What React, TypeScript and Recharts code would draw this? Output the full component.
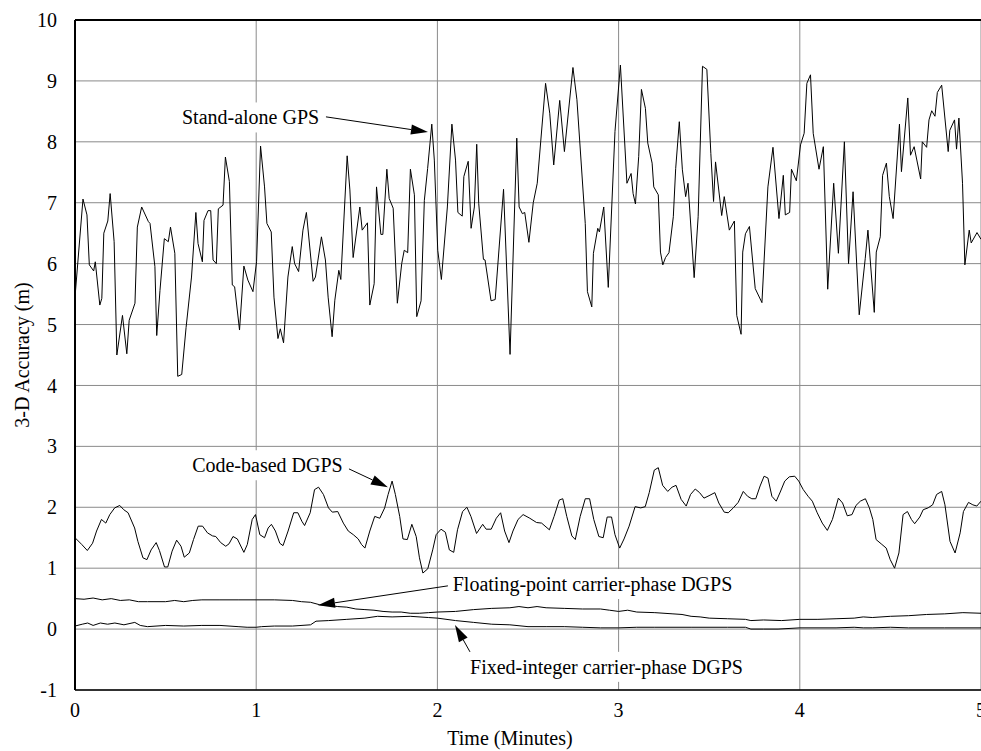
import React, { useLayoutEffect, useRef, useState } from 'react';
import { LineChart, Line, XAxis, YAxis, CartesianGrid, ReferenceLine, ReferenceDot } from 'recharts';

const FONT = '"Liberation Serif", "Times New Roman", serif';
const FS = 20;

const xTicks = [0, 1, 2, 3, 4, 5];
const yTicks = [-1, 0, 1, 2, 3, 4, 5, 6, 7, 8, 9, 10];

// Stand-alone GPS
const gpsTime = [
  0, 0.044, 0.066, 0.079, 0.103, 0.112, 0.137, 0.148, 0.159, 0.181, 0.194, 0.216, 0.231, 0.262, 0.286, 0.299,
  0.331, 0.344, 0.368, 0.405, 0.414, 0.441, 0.451, 0.469, 0.493, 0.515, 0.527, 0.551, 0.567, 0.589, 0.613, 0.643,
  0.667, 0.679, 0.703, 0.712, 0.734, 0.749, 0.762, 0.78, 0.791, 0.817, 0.83, 0.852, 0.868, 0.881, 0.908, 0.932,
  0.954, 0.982, 1.002, 1.024, 1.046, 1.059, 1.083, 1.098, 1.12, 1.133, 1.151, 1.175, 1.199, 1.212, 1.234, 1.258,
  1.277, 1.314, 1.327, 1.36, 1.382, 1.397, 1.419, 1.434, 1.456, 1.467, 1.502, 1.517, 1.535, 1.572, 1.585, 1.614,
  1.627, 1.651, 1.664, 1.688, 1.699, 1.721, 1.734, 1.756, 1.779, 1.803, 1.817, 1.836, 1.851, 1.873, 1.886, 1.91,
  1.928, 1.946, 1.969, 1.983, 2.002, 2.022, 2.055, 2.08, 2.1, 2.113, 2.137, 2.146, 2.17, 2.186, 2.204, 2.217,
  2.228, 2.254, 2.263, 2.296, 2.319, 2.365, 2.401, 2.438, 2.451, 2.469, 2.482, 2.505, 2.529, 2.551, 2.597, 2.62,
  2.642, 2.675, 2.701, 2.748, 2.77, 2.816, 2.828, 2.852, 2.861, 2.885, 2.894, 2.918, 2.943, 2.98, 3.01, 3.046,
  3.069, 3.08, 3.093, 3.111, 3.126, 3.148, 3.161, 3.185, 3.194, 3.219, 3.231, 3.244, 3.259, 3.278, 3.302, 3.315,
  3.335, 3.352, 3.37, 3.383, 3.417, 3.439, 3.463, 3.487, 3.509, 3.524, 3.535, 3.569, 3.583, 3.611, 3.639, 3.652,
  3.676, 3.685, 3.7, 3.722, 3.754, 3.791, 3.824, 3.852, 3.885, 3.909, 3.92, 3.944, 3.954, 3.981, 4.004, 4.024,
  4.039, 4.059, 4.074, 4.106, 4.13, 4.154, 4.187, 4.213, 4.246, 4.269, 4.294, 4.328, 4.361, 4.376, 4.411, 4.422,
  4.444, 4.457, 4.478, 4.494, 4.515, 4.55, 4.561, 4.596, 4.611, 4.631, 4.667, 4.676, 4.7, 4.713, 4.728, 4.746,
  4.759, 4.783, 4.819, 4.828, 4.854, 4.865, 4.878, 4.898, 4.911, 4.935, 4.946, 4.978, 5.0,
];
const gpsAcc = [
  5.45, 7.06, 6.8, 5.98, 5.88, 6.03, 5.32, 5.43, 6.5, 6.7, 7.15, 6.36, 4.5, 5.15, 4.52, 5.07,
  5.35, 6.6, 6.93, 6.69, 6.66, 5.95, 4.82, 5.56, 6.41, 6.36, 6.6, 6.17, 4.15, 4.18, 4.95, 5.78,
  6.84, 6.33, 6.03, 6.71, 6.87, 6.87, 6.06, 6.0, 6.9, 6.96, 7.75, 7.35, 5.65, 5.62, 4.91, 5.96,
  5.73, 5.54, 6.03, 7.93, 7.26, 6.66, 6.52, 5.45, 4.77, 4.93, 4.7, 5.78, 6.28, 6.0, 5.87, 6.55,
  6.84, 5.71, 5.78, 6.44, 6.06, 5.45, 4.8, 5.4, 5.89, 5.74, 7.77, 7.21, 6.1, 6.93, 6.55, 6.67,
  5.32, 5.67, 7.26, 6.48, 6.48, 7.55, 7.07, 6.91, 5.35, 6.0, 6.22, 6.18, 7.55, 7.13, 5.13, 5.39,
  7.04, 7.56, 8.29, 7.7, 6.22, 5.74, 6.93, 8.29, 7.7, 6.84, 6.78, 7.43, 7.68, 6.58, 6.93, 7.96,
  6.99, 6.07, 6.06, 5.39, 5.41, 7.22, 4.51, 8.06, 6.93, 6.82, 6.84, 6.35, 7.0, 7.32, 8.96, 8.47,
  7.62, 8.68, 7.84, 9.22, 8.69, 6.66, 5.54, 5.29, 6.17, 6.58, 6.52, 6.93, 5.61, 8.17, 9.26, 7.32,
  7.48, 7.15, 6.98, 7.76, 8.86, 8.55, 7.98, 7.65, 7.26, 7.13, 6.19, 5.98, 6.1, 6.18, 6.77, 7.56,
  8.33, 7.54, 7.1, 7.32, 5.77, 6.77, 9.24, 9.19, 7.81, 7.02, 7.67, 6.79, 7.1, 6.55, 6.7, 5.15,
  4.84, 6.19, 6.49, 6.61, 5.59, 5.36, 7.26, 7.91, 6.74, 7.45, 6.8, 6.84, 7.55, 7.36, 7.95, 8.14,
  8.96, 9.1, 8.14, 7.55, 7.92, 5.58, 7.32, 6.17, 8.0, 6.0, 7.18, 5.16, 6.08, 6.55, 5.2, 6.19,
  6.44, 7.45, 7.65, 7.1, 6.74, 8.29, 7.51, 8.72, 7.78, 7.92, 7.39, 8.0, 7.91, 8.36, 8.51, 8.42,
  8.81, 8.93, 7.84, 8.19, 8.36, 7.88, 8.39, 7.32, 5.98, 6.55, 6.34, 6.51, 6.4,
];

// Code-based DGPS
const dgpsTime = [
  0, 0.037, 0.068, 0.097, 0.119, 0.146, 0.17, 0.192, 0.219, 0.247, 0.269, 0.293, 0.329, 0.347, 0.375, 0.397,
  0.42, 0.448, 0.466, 0.494, 0.512, 0.536, 0.561, 0.585, 0.603, 0.631, 0.654, 0.68, 0.704, 0.731, 0.759, 0.777,
  0.804, 0.832, 0.85, 0.872, 0.896, 0.932, 0.951, 0.978, 0.996, 1.02, 1.046, 1.066, 1.084, 1.106, 1.13, 1.148,
  1.176, 1.207, 1.23, 1.252, 1.267, 1.298, 1.322, 1.344, 1.371, 1.399, 1.42, 1.45, 1.481, 1.508, 1.536, 1.563,
  1.581, 1.6, 1.627, 1.654, 1.682, 1.709, 1.728, 1.75, 1.768, 1.792, 1.81, 1.834, 1.859, 1.883, 1.901, 1.92,
  1.947, 1.974, 1.993, 2.02, 2.044, 2.066, 2.09, 2.111, 2.139, 2.163, 2.185, 2.216, 2.25, 2.269, 2.297, 2.325,
  2.349, 2.371, 2.395, 2.417, 2.445, 2.473, 2.51, 2.547, 2.575, 2.618, 2.644, 2.673, 2.692, 2.714, 2.742, 2.761,
  2.788, 2.816, 2.84, 2.863, 2.891, 2.915, 2.937, 2.961, 2.98, 3.006, 3.03, 3.058, 3.091, 3.122, 3.147, 3.169,
  3.197, 3.219, 3.243, 3.271, 3.295, 3.317, 3.345, 3.373, 3.397, 3.423, 3.447, 3.471, 3.499, 3.531, 3.553, 3.583,
  3.605, 3.633, 3.66, 3.688, 3.712, 3.735, 3.757, 3.781, 3.803, 3.824, 3.846, 3.87, 3.892, 3.917, 3.942, 3.972,
  3.994, 4.019, 4.046, 4.069, 4.096, 4.124, 4.152, 4.18, 4.213, 4.236, 4.262, 4.288, 4.31, 4.334, 4.362, 4.384,
  4.403, 4.421, 4.449, 4.477, 4.499, 4.523, 4.547, 4.57, 4.594, 4.616, 4.634, 4.662, 4.681, 4.708, 4.733, 4.755,
  4.783, 4.801, 4.829, 4.857, 4.885, 4.903, 4.931, 4.955, 4.977, 5.0,
];
const dgpsAcc = [
  1.5, 1.39, 1.29, 1.41, 1.61, 1.8, 1.74, 1.88, 1.99, 2.03, 1.96, 1.91, 1.66, 1.44, 1.17, 1.14,
  1.3, 1.42, 1.29, 1.02, 1.02, 1.28, 1.46, 1.36, 1.18, 1.25, 1.47, 1.69, 1.69, 1.58, 1.53, 1.52,
  1.42, 1.36, 1.4, 1.52, 1.48, 1.26, 1.39, 1.8, 1.88, 1.55, 1.5, 1.66, 1.72, 1.61, 1.41, 1.37,
  1.61, 1.91, 1.91, 1.77, 1.7, 1.91, 2.29, 2.33, 2.21, 1.99, 1.92, 1.93, 1.74, 1.61, 1.55, 1.48,
  1.39, 1.33, 1.61, 1.85, 1.82, 1.99, 2.21, 2.43, 2.21, 1.85, 1.48, 1.47, 1.72, 1.52, 1.17, 0.92,
  0.99, 1.3, 1.55, 1.64, 1.59, 1.3, 1.26, 1.63, 1.93, 2.0, 1.85, 1.57, 1.72, 1.64, 1.64, 1.82,
  1.91, 1.61, 1.42, 1.61, 1.8, 1.88, 1.82, 1.75, 1.74, 1.63, 1.85, 2.12, 2.14, 1.85, 1.53, 1.47,
  1.85, 2.14, 2.14, 1.8, 1.52, 1.5, 1.84, 1.84, 1.55, 1.33, 1.48, 1.69, 2.01, 1.99, 2.01, 2.24,
  2.61, 2.65, 2.36, 2.26, 2.33, 2.36, 2.13, 2.02, 2.21, 2.3, 2.24, 2.15, 2.19, 2.24, 2.07, 1.92,
  1.91, 1.99, 2.08, 2.26, 2.18, 2.14, 2.14, 2.35, 2.51, 2.48, 2.18, 2.1, 2.25, 2.43, 2.5, 2.51,
  2.43, 2.29, 2.18, 2.1, 1.91, 1.74, 1.62, 1.8, 2.15, 2.07, 1.86, 1.88, 2.03, 2.1, 2.14, 1.99,
  1.8, 1.47, 1.4, 1.33, 1.14, 1.0, 1.25, 1.88, 1.93, 1.8, 1.73, 1.84, 1.96, 1.99, 2.04, 2.21,
  2.26, 2.04, 1.44, 1.25, 1.58, 1.93, 2.08, 2.04, 2.02, 2.1,
];

// Floating-point carrier-phase DGPS
const floatTime = [
  0, 0.05, 0.1, 0.15, 0.2, 0.25, 0.3, 0.35, 0.4, 0.5, 0.55, 0.6, 0.65, 0.7, 0.8, 0.9,
  1.0, 1.1, 1.2, 1.25, 1.3, 1.35, 1.4, 1.45, 1.5, 1.55, 1.6, 1.65, 1.7, 1.75, 1.8, 1.85,
  1.9, 1.95, 2.0, 2.1, 2.2, 2.3, 2.4, 2.45, 2.5, 2.55, 2.6, 2.7, 2.8, 2.9, 2.95, 3.0,
  3.05, 3.1, 3.2, 3.3, 3.35, 3.4, 3.45, 3.5, 3.6, 3.7, 3.73, 3.8, 3.9, 4.0, 4.1, 4.2,
  4.3, 4.35, 4.4, 4.5, 4.6, 4.7, 4.8, 4.9, 5.0,
];
const floatAcc = [
  0.5, 0.49, 0.51, 0.48, 0.5, 0.47, 0.48, 0.45, 0.45, 0.45, 0.47, 0.45, 0.47, 0.48, 0.48, 0.48,
  0.48, 0.48, 0.47, 0.45, 0.44, 0.4, 0.39, 0.37, 0.36, 0.33, 0.32, 0.31, 0.29, 0.28, 0.28, 0.26,
  0.26, 0.27, 0.28, 0.29, 0.32, 0.34, 0.35, 0.37, 0.35, 0.37, 0.35, 0.34, 0.33, 0.33, 0.31, 0.29,
  0.31, 0.28, 0.27, 0.25, 0.24, 0.21, 0.2, 0.18, 0.17, 0.16, 0.14, 0.15, 0.14, 0.16, 0.16, 0.17,
  0.18, 0.2, 0.19, 0.21, 0.22, 0.24, 0.25, 0.27, 0.26,
];

// Fixed-integer carrier-phase DGPS
const fixedTime = [
  0, 0.04, 0.07, 0.1, 0.14, 0.18, 0.22, 0.27, 0.33, 0.36, 0.4, 0.5, 0.6, 0.7, 0.8, 0.9,
  0.95, 1.0, 1.03, 1.1, 1.2, 1.3, 1.33, 1.4, 1.5, 1.6, 1.67, 1.75, 1.85, 1.95, 2.0, 2.1,
  2.2, 2.3, 2.4, 2.5, 2.6, 2.7, 2.8, 2.9, 3.0, 3.1, 3.2, 3.4, 3.6, 3.7, 3.73, 3.8,
  3.88, 4.0, 4.2, 4.3, 4.35, 4.4, 4.5, 4.6, 4.8, 5.0,
];
const fixedAcc = [
  0.05, 0.08, 0.1, 0.06, 0.1, 0.08, 0.1, 0.07, 0.11, 0.06, 0.04, 0.06, 0.05, 0.06, 0.06, 0.04,
  0.03, 0.03, 0.04, 0.05, 0.05, 0.07, 0.13, 0.14, 0.16, 0.18, 0.21, 0.2, 0.21, 0.19, 0.18, 0.14,
  0.11, 0.08, 0.07, 0.04, 0.04, 0.04, 0.03, 0.02, 0.02, 0.03, 0.03, 0.03, 0.03, 0.03, 0.0, 0.0,
  0.0, 0.02, 0.02, 0.03, 0.02, 0.02, 0.03, 0.02, 0.02, 0.02,
];

// annotation texts with label centre and arrow tail/tip in data units
const noteText = [
  'Stand-alone GPS',
  'Code-based DGPS',
  'Floating-point carrier-phase DGPS',
  'Fixed-integer carrier-phase DGPS',
];
const noteAt = [[0.969, 8.4], [1.062, 2.69], [2.856, 0.74], [2.933, -0.62]];
const arrowFrom = [[1.385, 8.41], [1.512, 2.63], [2.058, 0.71], [2.196, -0.46]];
const arrowTo = [[1.948, 8.16], [1.727, 2.33], [1.341, 0.39], [2.097, 0.066]];

const toRows = (ts: number[], vs: number[]) => ts.map((t, i) => ({ t, v: vs[i] }));

const series = [
  toRows(gpsTime, gpsAcc),
  toRows(dgpsTime, dgpsAcc),
  toRows(floatTime, floatAcc),
  toRows(fixedTime, fixedAcc),
];

const Arrow = (p: any) => {
  const { x1, y1, x2, y2 } = p;
  const dx = x2 - x1;
  const dy = y2 - y1;
  const len = Math.hypot(dx, dy) || 1;
  const ux = dx / len;
  const uy = dy / len;
  const hl = 17;
  const hw = 5;
  const bx = x2 - ux * hl;
  const by = y2 - uy * hl;
  return (
    <g>
      <line x1={x1} y1={y1} x2={bx} y2={by} stroke="#000" strokeWidth={1} />
      <polygon
        points={`${x2},${y2} ${bx - uy * hw},${by + ux * hw} ${bx + uy * hw},${by - ux * hw}`}
        fill="#000"
      />
    </g>
  );
};

const NoteText = ({ cx, cy, text }: { cx: number; cy: number; text: string }) => {
  const ref = useRef<SVGTextElement>(null);
  const [w, setW] = useState(0);
  useLayoutEffect(() => {
    if (ref.current) setW(ref.current.getBBox().width);
  }, [cx, cy, text]);
  return (
    <g>
      {w > 0 && <rect x={cx - w / 2 - 4} y={cy - 15} width={w + 8} height={30} fill="#fff" />}
      <text
        ref={ref}
        x={cx}
        y={cy}
        textAnchor="middle"
        dominantBaseline="central"
        fontFamily={FONT}
        fontSize={FS}
        fill="#000"
      >
        {text}
      </text>
    </g>
  );
};

const YTitle = ({ viewBox }: any) => {
  const cx = viewBox.x + 7;
  const cy = viewBox.y + viewBox.height / 2;
  return (
    <text
      x={cx}
      y={cy}
      transform={`rotate(-90, ${cx}, ${cy})`}
      textAnchor="middle"
      dominantBaseline="central"
      fontFamily={FONT}
      fontSize={FS}
      fill="#000"
    >
      3-D Accuracy (m)
    </text>
  );
};

const XTitle = ({ viewBox }: any) => {
  const cx = viewBox.x + viewBox.width / 2 - 18;
  const cy = viewBox.y + 48;
  return (
    <text x={cx} y={cy} textAnchor="middle" dominantBaseline="central" fontFamily={FONT} fontSize={FS} fill="#000">
      Time (Minutes)
    </text>
  );
};

const tickStyle = { fill: '#000', fontSize: FS, fontFamily: FONT };

export default function App() {
  return (
    <div style={{ position: 'absolute', left: 0, top: 0, width: 981, height: 751, overflow: 'hidden', background: '#fff' }}>
      <LineChart width={1000} height={751} margin={{ top: 20, right: 19, bottom: 31, left: 15 }}>
        <CartesianGrid stroke="#8a8a8a" strokeWidth={1} />
        <XAxis
          type="number"
          dataKey="t"
          domain={[0, 5]}
          ticks={xTicks}
          allowDataOverflow
          height={30}
          tickLine={false}
          tickSize={6}
          tickMargin={7}
          tick={tickStyle}
          axisLine={{ stroke: '#000', strokeWidth: 1.5 }}
          label={<XTitle />}
        />
        <YAxis
          type="number"
          domain={[-1, 10]}
          ticks={yTicks}
          allowDataOverflow
          width={60}
          tickLine={false}
          tickSize={6}
          tickMargin={12}
          tick={tickStyle}
          axisLine={{ stroke: '#000', strokeWidth: 2 }}
          label={<YTitle />}
        />
        <ReferenceLine y={10} stroke="#000" strokeWidth={2} />
        {noteText.map((txt, i) => (
          <ReferenceDot
            key={'n' + i}
            x={noteAt[i][0]}
            y={noteAt[i][1]}
            r={0}
            shape={(p: any) => <NoteText cx={p.cx} cy={p.cy} text={txt} />}
          />
        ))}
        {noteText.map((txt, i) => (
          <ReferenceLine
            key={'a' + i}
            segment={[
              { x: arrowFrom[i][0], y: arrowFrom[i][1] },
              { x: arrowTo[i][0], y: arrowTo[i][1] },
            ]}
            ifOverflow="visible"
            shape={Arrow}
          />
        ))}
        {series.map((rows, i) => (
          <Line
            key={'s' + i}
            data={rows}
            dataKey="v"
            type="linear"
            dot={false}
            stroke="#000"
            strokeWidth={1}
            isAnimationActive={false}
          />
        ))}
      </LineChart>
    </div>
  );
}
